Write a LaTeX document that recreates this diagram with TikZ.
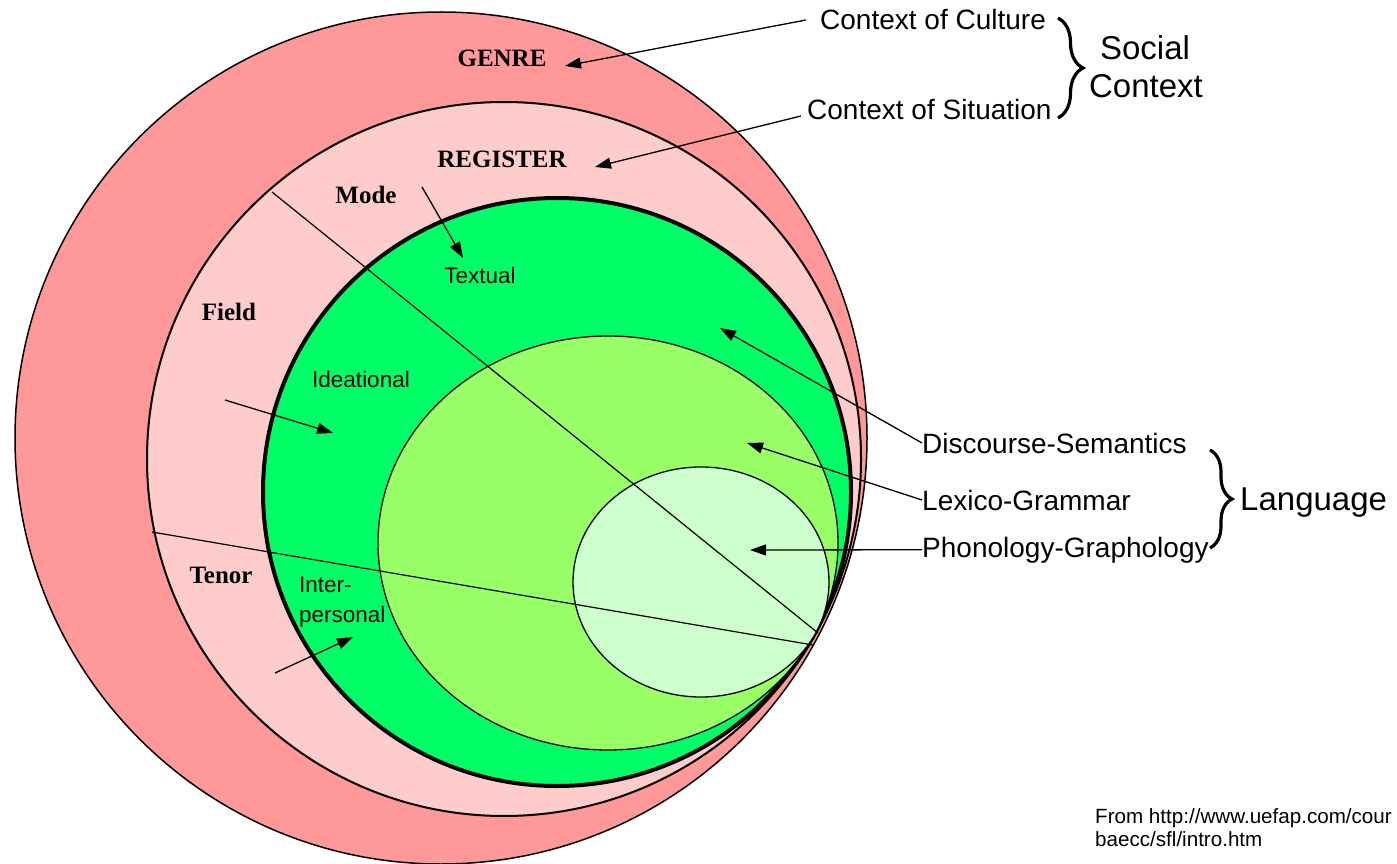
\documentclass[tikz,border=0pt]{standalone}
\usepackage{fontspec}
\setmainfont{Liberation Serif}
\newfontfamily\labelsans{Liberation Sans}
\usetikzlibrary{arrows.meta,decorations.pathreplacing}
\definecolor{genrered}{RGB}{255,153,153}
\definecolor{registerpink}{RGB}{255,204,204}
\definecolor{discgreen}{RGB}{0,255,102}
\definecolor{lexgreen}{RGB}{153,255,102}
\definecolor{phongreen}{RGB}{204,255,204}

\begin{document}
\begin{tikzpicture}[x=1pt,y=-1pt,
    arr/.style={line width=1.3pt,-{Triangle[length=16pt,width=11pt]}},
    ringlabel/.style={font=\fontsize{25}{28}\selectfont\bfseries,inner sep=0pt,anchor=base},
    innerlabel/.style={font=\labelsans\fontsize{22.5}{26}\selectfont,inner sep=0pt,anchor=base},
    sidelabel/.style={font=\labelsans\fontsize{28}{32}\selectfont,inner sep=0pt,anchor=base west},
    biglabel/.style={font=\labelsans\fontsize{33}{38}\selectfont,inner sep=0pt},
    srclabel/.style={font=\labelsans\fontsize{20.6}{24}\selectfont,inner sep=0pt,anchor=base west},
    brc/.style={decorate,decoration={brace,amplitude=#1},line width=3.2pt}]
      \useasboundingbox (0,0) rectangle (1397,864);
      \coordinate (G) at (441,438);
      \coordinate (R) at (504,459);
      \coordinate (D) at (557,492);
      \coordinate (L) at (608,543);
      \coordinate (P) at (701,582);
      \filldraw[fill=genrered,line width=1.5pt](G) circle[radius=426];
      \filldraw[fill=registerpink,line width=2pt](R) circle[radius=357];
      \filldraw[fill=discgreen,line width=4pt](D) circle[radius=294];
      \filldraw[fill=lexgreen,line width=1.3pt](L) ellipse[x radius=230,y radius=207];
      \filldraw[fill=phongreen,line width=1.3pt](P) ellipse[x radius=128,y radius=115];
      \coordinate (MF) at (272,192);
      \coordinate (FT) at (152,532);
      \draw[line width=1.2pt](MF)--(818,633);
      \draw[line width=1.2pt](FT)--(813,645);
      \node[ringlabel] (genre) at (502,67) {GENRE};
      \node[ringlabel] (register) at (502,167) {REGISTER};
      \node[ringlabel] (mode) at (366,203) {Mode};
      \node[ringlabel] (field) at (229,320) {Field};
      \node[ringlabel] (tenor) at (221,583) {Tenor};
      \node[innerlabel] (textual) at (480,283) {Textual};
      \node[innerlabel] (ideational) at (361,387) {Ideational};
      \node[innerlabel,anchor=base west] (inter) at (299,592) {Inter-};
      \node[innerlabel,anchor=base west] (personal) at (299,622) {personal};
      \node[sidelabel] (culture) at (820,30) {Context of Culture};
      \node[sidelabel] (situation) at (807,120) {Context of Situation};
      \node[sidelabel] (disc) at (922,453) {Discourse-Semantics};
      \node[sidelabel] (lexi) at (922,510) {Lexico-Grammar};
      \node[sidelabel] (phon) at (922,557) {Phonology-Graphology};
      \node[biglabel,anchor=base] (social) at (1145,60) {Social};
      \node[biglabel,anchor=base] (context) at (1146,98) {Context};
      \node[biglabel,anchor=base west] (language) at (1240,510) {Language};
      \node[srclabel] (src) at (1095,823) {From http://www.uefap.com/cour};
      \node[srclabel] (srcb) at (1095,846) {baecc/sfl/intro.htm};
      \draw[arr]([xshift=-14pt]culture.west)--(565,66);
      \draw[arr]([xshift=-6pt,yshift=-6pt]situation.west)--(595,167);
      \draw[arr](disc.west)--(720,328);
      \draw[arr](lexi.west)--(747,443);
      \draw[arr](phon.west)--(750,550);
      \draw[arr](422,187)--(463,258);
      \draw[arr](225,400)--(333,433);
      \draw[arr](275,673)--(353,637);
      \draw[brc=25pt](1058,18)--(1058,118);
      \draw[brc=22pt](1210,450)--(1210,548);
    \end{tikzpicture}
\end{document}
